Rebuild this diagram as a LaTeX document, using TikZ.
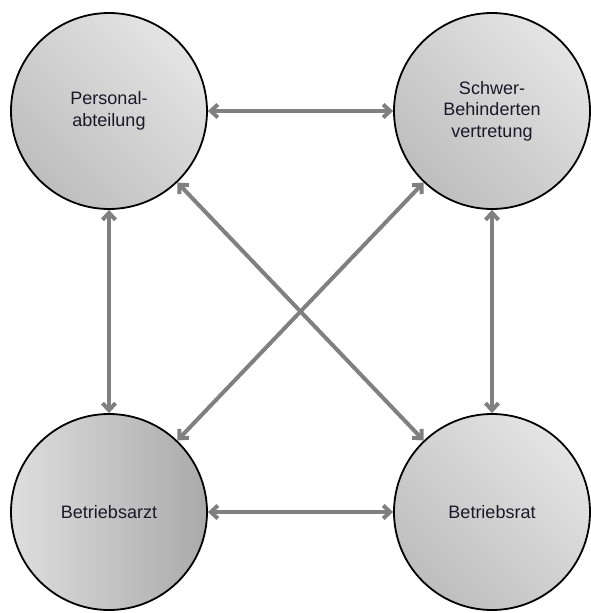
\documentclass[tikz,border=0pt]{standalone}
\usepackage{fontspec}
\setmainfont{Liberation Sans}
\usetikzlibrary{arrows.meta}
\definecolor{arrowgray}{RGB}{128,128,128}
\definecolor{lightfill}{RGB}{228,228,228}
\definecolor{darkfill}{RGB}{190,190,190}
\definecolor{stripelight}{RGB}{222,222,222}
\definecolor{stripedark}{RGB}{170,170,170}
\definecolor{txt}{RGB}{25,25,40}
\tikzset{
  orgcircle/.style={circle, draw=black, line width=1.8pt, minimum size=196pt, inner sep=0pt,
    top color=lightfill, bottom color=darkfill, shading angle=-45,
    font=\fontsize{18}{21.5}\selectfont, text=txt, align=center},
  stripecircle/.style={orgcircle, left color=stripelight, right color=stripedark},
  arr/.style={draw=arrowgray, line width=4pt, {Straight Barb[length=7pt,width=13pt]}-{Straight Barb[length=7pt,width=13pt]}}
}
\begin{document}
\begin{tikzpicture}[x=1pt,y=-1pt]
\useasboundingbox (0,0) rectangle (590,613);
\node[orgcircle] (pa) at (109,111) {Personal-\\abteilung};
\node[orgcircle] (sb) at (492,111) {Schwer-\\Behinderten\\vertretung};
\node[stripecircle] (ba) at (109,512) {Betriebsarzt};
\node[orgcircle] (br) at (492,512) {Betriebsrat};
\draw[arr] (pa) -- (sb);
\draw[arr] (ba) -- (br);
\draw[arr] (pa) -- (ba);
\draw[arr] (sb) -- (br);
\draw[arr] (pa) -- (br);
\draw[arr] (ba) -- (sb);
\end{tikzpicture}
\end{document}
